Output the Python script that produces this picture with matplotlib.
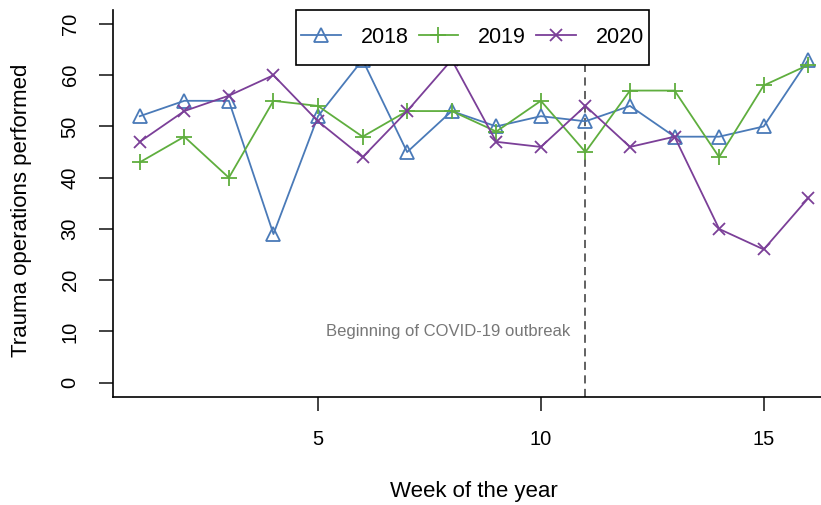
import matplotlib
matplotlib.use("Agg")
import matplotlib.pyplot as plt
from matplotlib.path import Path

plt.rcParams['font.family'] = ['Liberation Sans', 'DejaVu Sans']

# weekly trauma operations
weeks = list(range(1, 17))
ops2018 = [52, 55, 55, 29, 52, 63, 45, 53, 50, 52, 51, 54, 48, 48, 50, 63]
ops2019 = [43, 48, 40, 55, 54, 48, 53, 53, 49, 55, 45, 57, 57, 44, 58, 62]
ops2020 = [47, 53, 56, 60, 51, 44, 53, 63, 47, 46, 54, 46, 48, 30, 26, 36]
yticks = [0, 10, 20, 30, 40, 50, 60, 70]
xticks = [5, 10, 15]
outbreak_week = 11


def tall_box(x0, y0, width, height, mutation_size):
    # legend frame with extra room above and below only
    v = 0.56 * mutation_size
    return Path([(x0, y0 - v), (x0 + width, y0 - v), (x0 + width, y0 + height + v),
                 (x0, y0 + height + v), (x0, y0 - v)], closed=True)


fig = plt.figure(figsize=(8.21, 5.05), dpi=100)
# plot region runs a little past the right edge of the picture (cropped original)
ax = fig.add_axes([113/821, 108/505, (835-113)/821, (397-9.6)/505])

ax.plot(weeks, ops2018, color="#4a7ab8", marker="^", markersize=10, markerfacecolor="none",
        markeredgewidth=1.3, linewidth=1.3, label="2018")
ax.plot(weeks, ops2019, color="#5fae3e", marker="+", markersize=12,
        markeredgewidth=1.3, linewidth=1.3, label="2019")
ax.plot(weeks, ops2020, color="#7b3f98", marker="x", markersize=8.5,
        markeredgewidth=1.3, linewidth=1.3, label="2020")

ax.axvline(outbreak_week, color="#555555", linestyle=(0, (4.5, 3)), linewidth=1.3, zorder=1)
ax.text(outbreak_week - 0.33, 10, "Beginning of COVID-19 outbreak", ha="right", va="center",
        color="#777777", fontsize=12)

ax.set_xlim(0.4, 16.6)
ax.set_ylim(-2.8, 72.8)
ax.set_xticks(xticks)
ax.set_yticks(yticks)
ax.set_yticklabels([str(v) for v in yticks], rotation=90, va="center")
ax.tick_params(axis="both", labelsize=14.5, length=10, width=1.2, color="#222222")
ax.tick_params(axis="x", pad=13.5)
ax.tick_params(axis="y", pad=14)
for s in ["top", "right"]:
    ax.spines[s].set_visible(False)
for s in ["left", "bottom"]:
    ax.spines[s].set_linewidth(1.2)

ax.set_xlabel("Week of the year", fontsize=16, va="center")
ax.xaxis.set_label_coords(0.5, -0.245)
ax.set_ylabel("Trauma operations performed", fontsize=16, va="center")
ax.yaxis.set_label_coords(-0.1274, 0.483)

leg = ax.legend(loc="upper center", bbox_to_anchor=(0.498, 0.969), ncol=3, fontsize=15.5,
                fancybox=False, framealpha=1, edgecolor="black", borderaxespad=0,
                handlelength=1.85, columnspacing=0.45,
                handletextpad=0.93, borderpad=0.23)
leg.get_frame().set_boxstyle(tall_box)
leg.get_frame().set_linewidth(1.2)
leg.set_zorder(5)

fig.savefig("out.png", dpi=100)
